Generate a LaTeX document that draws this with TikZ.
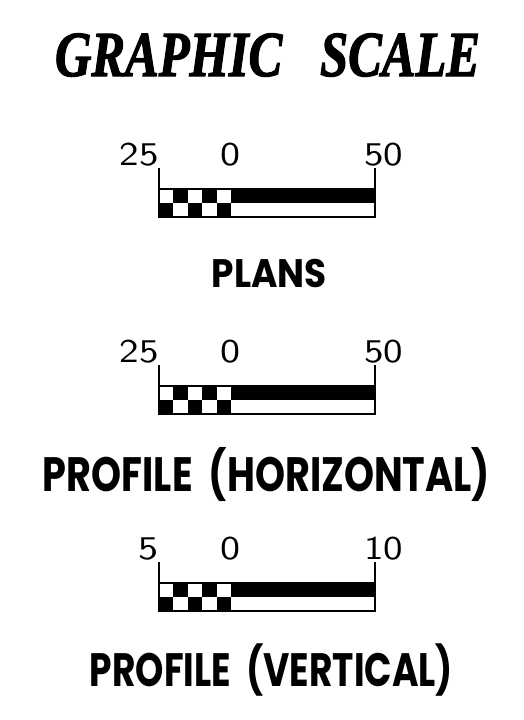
\documentclass[tikz,border=0pt]{standalone}
\usepackage{fontspec}
\usepackage{graphicx}
\newfontfamily\titlefont{Liberation Serif}[BoldItalicFeatures={FakeBold=2}]
\newfontfamily\namefont{Poppins}
% squeeze a label into a given ink box (height = cap height)
\newcommand\fitbox[3]{\resizebox{#1}{#2}{\raisebox{0pt}[\fontcharht\font`P][0pt]{#3}}}
\tikzset{
    title/.style={font=\titlefont\bfseries\itshape, inner sep=0pt, anchor=base},
    barname/.style={font=\namefont\bfseries, inner sep=0pt, anchor=base},
    digit/.style={font=\sffamily, inner sep=0pt},
    barline/.style={line width=1.6pt, line cap=rect}}

\begin{document}
\begin{tikzpicture}[x=1pt,y=-1pt]
    \useasboundingbox (0,0) rectangle (524,720);

    \node[title] (graphic) at (267.5,76) {\fitbox{425pt}{42pt}{GRAPHIC\ \ \ SCALE}};

    \foreach \dy/\lo/\hi/\bar in {0/25/50/plans, 197/25/50/horiz, 394/5/10/vert} {
        \begin{scope}[shift={(0,189+\dy)}]
            % solid half of the top row
            \fill (231,0) rectangle (375,14);
            % checker left of zero
            \foreach \i in {0,...,4} {
                \pgfmathsetmacro\cx{159+14.4*\i}
                \ifodd\i
                    \fill (\cx,0) rectangle ++(14.4,14);
                \else
                    \fill (\cx,14) rectangle ++(14.4,14);
                \fi
            }
            \draw[barline] (159,-20.5) -- (159,28) -- (375,28) -- (375,-20.5);
            \draw[barline] (159,0) -- (375,0);
            \node[digit,anchor=south east] (\bar-lo) at (159,-23.5) {\fitbox{\ifnum\lo<10 20pt\else 39pt\fi}{23pt}{\lo}};
            \node[digit,anchor=south] (\bar-zero) at (230,-23.5) {\fitbox{20pt}{23pt}{0}};
            \node[digit,anchor=south west] (\bar-hi) at (364,-23.5) {\fitbox{39pt}{23pt}{\hi}};
        \end{scope}
    }

    \node[barname] (plans) at (269.5,287) {\fitbox{115pt}{28pt}{PLANS}};
    \node[barname] (horizontal) at (266.5,491) {\fitbox{447pt}{34pt}{PROFILE\ \ (HORIZONTAL)}};
    \node[barname] (vertical) at (271.5,686) {\fitbox{363pt}{33pt}{PROFILE\ \ (VERTICAL)}};
\end{tikzpicture}
\end{document}
